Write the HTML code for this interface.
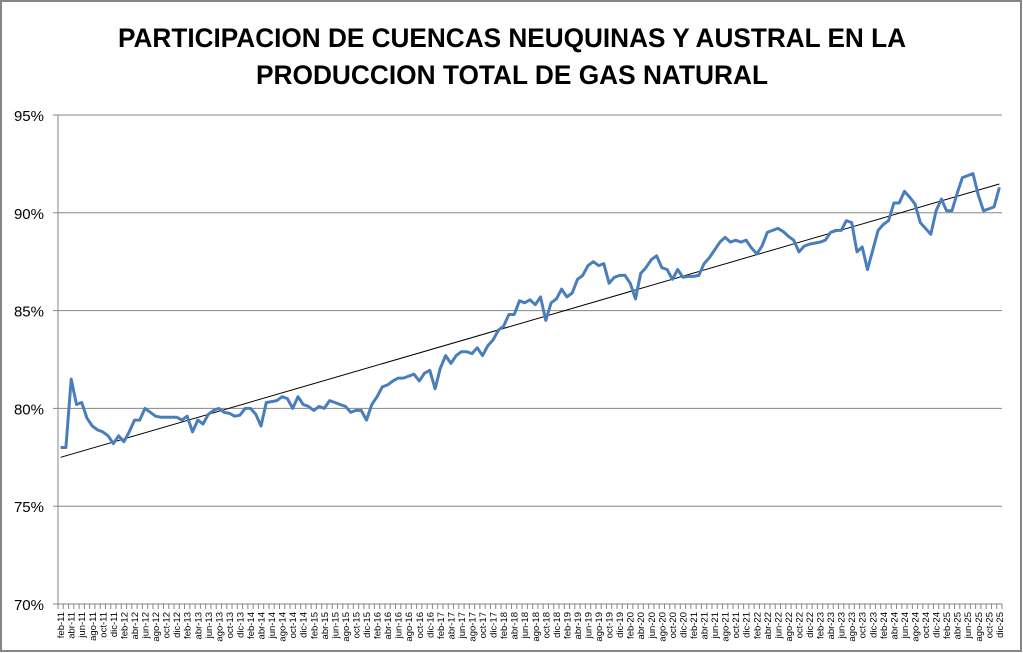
<!DOCTYPE html>
<html><head><meta charset="utf-8"><style>
html,body{margin:0;padding:0;background:#fff;}
svg{display:block;font-family:"Liberation Sans",sans-serif;}
</style></head><body>
<svg id="chart" width="1023" height="653" viewBox="0 0 1023 653">
<rect x="1" y="1" width="1020" height="650" fill="#fff" stroke="#868686" stroke-width="2"/>
<text x="512" y="47" text-anchor="middle" font-size="27" font-weight="bold" textLength="788" lengthAdjust="spacingAndGlyphs">PARTICIPACION DE CUENCAS NEUQUINAS Y AUSTRAL EN LA</text>
<text x="512" y="84" text-anchor="middle" font-size="27" font-weight="bold" textLength="512" lengthAdjust="spacingAndGlyphs">PRODUCCION TOTAL DE GAS NATURAL</text>
<g id="grid"></g><g id="yax"></g><g id="xax"></g><g id="series"></g>
</svg>
<script>
const yTicks=[70,75,80,85,90,95];
const values=[78.0,78.0,81.5,80.2,80.3,79.5,79.1,78.9,78.8,78.6,78.2,
78.6,78.3,78.8,79.4,79.4,80.0,79.8,79.6,79.55,79.55,79.55,79.55,
79.4,79.6,78.8,79.4,79.2,79.7,79.9,80.0,79.8,79.75,79.6,79.65,
80.0,80.0,79.7,79.1,80.3,80.35,80.4,80.6,80.5,80.0,80.6,80.2,
80.1,79.9,80.1,80.0,80.4,80.3,80.2,80.1,79.8,79.9,79.9,79.4,
80.2,80.6,81.1,81.2,81.4,81.55,81.55,81.65,81.75,81.4,81.8,81.95,
81.0,82.05,82.7,82.3,82.7,82.9,82.9,82.8,83.1,82.7,83.2,83.5,
84.0,84.2,84.8,84.8,85.5,85.4,85.55,85.3,85.7,84.5,85.4,85.6,
86.1,85.7,85.9,86.6,86.8,87.3,87.5,87.3,87.4,86.4,86.7,86.8,
86.8,86.4,85.6,86.9,87.2,87.6,87.8,87.2,87.1,86.6,87.1,86.7,
86.75,86.75,86.8,87.4,87.7,88.1,88.5,88.75,88.5,88.6,88.5,88.6,
88.2,87.9,88.3,89.0,89.1,89.2,89.05,88.8,88.6,88.0,88.3,88.4,
88.45,88.5,88.6,89.0,89.1,89.1,89.6,89.5,88.0,88.25,87.1,88.1,
89.1,89.4,89.6,90.5,90.5,91.1,90.8,90.45,89.5,89.2,88.9,90.1,
90.7,90.1,90.1,91.0,91.8,91.9,92.0,90.9,90.1,90.2,90.3,91.3];
const monthNames=["ene","feb","mar","abr","may","jun","jul","ago","sep","oct","nov","dic"];
const NS="http://www.w3.org/2000/svg";
const X0=58,X1=1002,Y0=604,Y1=115;
const n=values.length;
const step=(X1-X0)/n;
function xs(i){return X0+(i+0.5)*step;}
function ys(v){return Y0-(v-70)/(95-70)*(Y0-Y1);}
function mk(tag,attrs,parent){const e=document.createElementNS(NS,tag);for(const k in attrs)e.setAttribute(k,attrs[k]);parent.appendChild(e);return e;}
const grid=document.getElementById('grid'),yax=document.getElementById('yax'),xax=document.getElementById('xax'),ser=document.getElementById('series');
yTicks.forEach(t=>{
  const y=ys(t);
  const l=mk('line',{x1:X0,x2:X1,y1:y,y2:y,stroke:'#868686','stroke-width':1},grid);
  
  
  const tx=mk('text',{x:44,y:y+6,'text-anchor':'end','font-size':15,fill:'#000'},yax);
  tx.textContent=t+'%';
  
  
  const tk=mk('line',{x1:X0-5,x2:X0,y1:y,y2:y,stroke:'#868686'},yax);
  
  
});
const ya=mk('line',{x1:X0,x2:X0,y1:Y1,y2:Y0,stroke:'#868686'},yax);


for(let i=0;i<=n;i++){
  const x=X0+i*step;
  const tk=mk('line',{x1:x,x2:x,y1:Y0,y2:Y0+5,stroke:'#868686'},xax);
  
  
}
for(let i=0;i<n;i+=2){
  const m=(1+i)%12, yr=11+Math.floor((1+i)/12);
  const x=xs(i);
  const tx=mk('text',{x:0,y:0,'text-anchor':'end','font-size':9.5,transform:`translate(${x+3.5},${Y0+8}) rotate(-90)`},xax);
  tx.textContent=monthNames[m]+'-'+yr;
  
  
}
// trend line (linear regression)
let sx=0,sy=0,sxx=0,sxy=0;
values.forEach((v,i)=>{sx+=i;sy+=v;sxx+=i*i;sxy+=i*v;});
const b=(n*sxy-sx*sy)/(n*sxx-sx*sx),a=(sy-b*sx)/n;
const tl=mk('line',{x1:xs(0),y1:ys(a),x2:xs(n-1),y2:ys(a+b*(n-1)),stroke:'#000','stroke-width':1},ser);


const pts=values.map((v,i)=>xs(i).toFixed(1)+','+ys(v).toFixed(1)).join(' ');
const pl=mk('polyline',{points:pts,fill:'none',stroke:'#4a7ebb','stroke-width':3,'stroke-linejoin':'round'},ser);


</script>
</body></html>
